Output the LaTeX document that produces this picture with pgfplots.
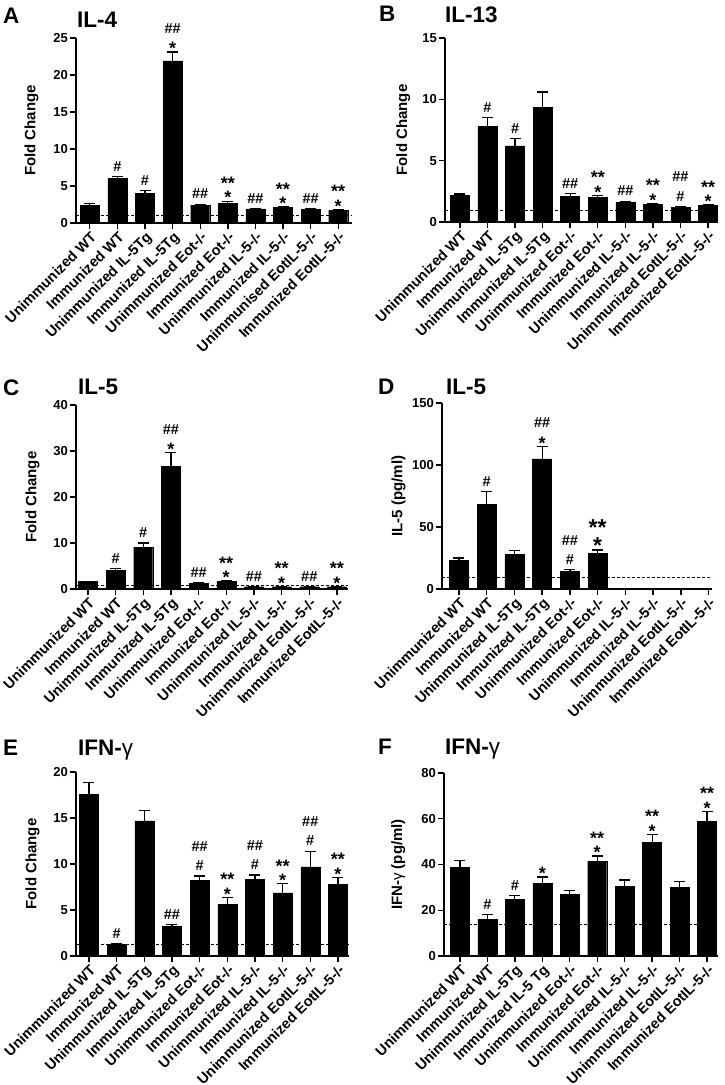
\documentclass[border=0pt]{standalone}
\usepackage{pgfplots}
\pgfplotsset{compat=1.18}
\usepackage{fontspec}
\setmainfont{Liberation Sans}
\newcommand\labf{\bfseries\fontsize{14.5}{16}\selectfont}
\newcommand\tnumf{\bfseries\fontsize{13}{15}\selectfont}
\newcommand\ylabf{\bfseries\fontsize{15}{17}\selectfont}
\newcommand\ttlf{\bfseries\fontsize{22.5}{26}\selectfont}
\newcommand\hashf{\bfseries\fontsize{14.5}{15}\selectfont}
\newcommand\starf{\bfseries\fontsize{18}{18}\selectfont}
\tikzset{ann/.style={anchor=south, inner sep=0pt, align=center, font=\fontsize{13}{15}\selectfont}}
\newcommand{\aH}[2]{\node[ann, yshift=5pt] at (axis cs:#1,#2) {{\hashf\#}};}
\newcommand{\aHH}[2]{\node[ann, yshift=5pt] at (axis cs:#1,#2) {{\hashf\#\#}};}
\newcommand{\aS}[2]{\node[ann, yshift=-3pt] at (axis cs:#1,#2) {{\starf*}};}
\newcommand{\aHHS}[2]{\node[ann, yshift=-3pt] at (axis cs:#1,#2) {{\hashf\#\#}\\[6.5pt]{\starf*}};}
\newcommand{\aSSS}[2]{\node[ann, yshift=-3pt] at (axis cs:#1,#2) {{\starf**}\\[-0.5pt]{\starf*}};}
\newcommand{\aHHH}[2]{\node[ann, yshift=5pt] at (axis cs:#1,#2) {{\hashf\#\#}\\[4.5pt]{\hashf\#}};}
\pgfplotsset{
  panel/.style={
    scale only axis, clip=false,
    axis lines*=left,
    axis line style={line width=1.6pt, black},
    every tick/.style={line width=1.4pt, black},
    tick align=outside, major tick length=6pt,
    xmin=-0.5, xmax=9.5, ymin=0,
    xtick={0,...,9},
    xticklabel style={rotate=45, anchor=north east, font=\labf, inner sep=1pt},
    yticklabel style={font=\tnumf, inner sep=2pt},
    /pgf/number format/assume math mode=true,
    ylabel style={font=\ylabf, anchor=south},
  },
  bars/.style={ybar, bar width=19pt, fill=black, draw=black, mark=none,
    error bars/.cd, y dir=plus, y explicit,
    error bar style={line width=1.2pt, black},
    error mark options={rotate=90, mark size=5.5pt, line width=1.2pt, black}},
  thr/.style={dash pattern=on 3pt off 2pt, line width=0.7pt, black, forget plot},
}
\begin{document}
\begin{tikzpicture}
\path[use as bounding box] (0pt,0pt) rectangle (724pt,-1085pt);
% ---------------- A ----------------
\node[anchor=base west, font=\ttlf, inner sep=0pt] at (3pt,-23pt) {A};
\node[anchor=base west, font=\ttlf, inner sep=0pt] at (77pt,-27pt) {IL-4};
\begin{axis}[panel, at={(76pt,-223pt)}, anchor=south west, width=276pt, height=185pt,
  ymax=25, ytick={0,5,10,15,20,25},
  ylabel={Fold Change}, ylabel style={at={(axis description cs:-0.123,0.5)}},
  xticklabels={Unimmunized WT, Immunized WT, Unimmunized IL-5Tg, Immunized IL-5Tg, Unimmunized Eot-/-, Immunized Eot-/-, Unimmunized IL-5-/-, Immunized IL-5-/-, Unimmunised EotIL-5-/-, Immunized EotIL-5-/-}]
\addplot[bars] table[x=x, y=y, y error=e] {
x y e
0 2.4 0.2
1 6.0 0.3
2 4.0 0.35
3 21.9 1.2
4 2.4 0.15
5 2.7 0.25
6 1.9 0.08
7 2.1 0.08
8 1.85 0.08
9 1.75 0.08
};
\addplot[thr] coordinates {(-0.5,1.1) (9.5,1.1)};
\aH{1}{6.3} \aH{2}{4.35} \aHHS{3}{23.1} \aHH{4}{2.55} \aSSS{5}{2.95}
\aHH{6}{1.98} \aSSS{7}{2.18} \aHH{8}{1.93} \aSSS{9}{1.83}
\end{axis}
% ---------------- B ----------------
\node[anchor=base west, font=\ttlf, inner sep=0pt] at (379pt,-21pt) {B};
\node[anchor=base west, font=\ttlf, inner sep=0pt] at (445pt,-22pt) {IL-13};
\begin{axis}[panel, at={(445pt,-222pt)}, anchor=south west, width=273pt, height=184pt,
  xmin=-0.54, xmax=9.36,
  ymax=15, ytick={0,5,10,15},
  ylabel={Fold Change}, ylabel style={at={(axis description cs:-0.114,0.5)}},
  xticklabels={Unimmunized WT, Immunized WT, Unimmunized IL-5Tg, Immunized IL-5Tg, Unimmunized Eot-/-, Immunized Eot-/-, Unimmunized IL-5-/-, Immunized IL-5-/-, Unimmunized EotIL-5-/-, Immunized EotIL-5-/-}]
\addplot[bars] table[x=x, y=y, y error=e] {
x y e
0 2.2 0.08
1 7.8 0.7
2 6.2 0.6
3 9.35 1.25
4 2.1 0.2
5 2.0 0.15
6 1.6 0.1
7 1.45 0.08
8 1.2 0.05
9 1.35 0.05
};
\addplot[thr] coordinates {(-0.54,0.95) (9.36,0.95)};
\aH{1}{8.5} \aH{2}{6.8} \aHH{4}{2.3} \aSSS{5}{2.15} \aHH{6}{1.7}
\aSSS{7}{1.53} \aHHH{8}{1.25} \aSSS{9}{1.4}
\end{axis}
% ---------------- C ----------------
\node[anchor=base west, font=\ttlf, inner sep=0pt] at (3pt,-395pt) {C};
\node[anchor=base west, font=\ttlf, inner sep=0pt] at (78pt,-394pt) {IL-5};
\begin{axis}[panel, at={(76pt,-589pt)}, anchor=south west, width=272pt, height=184pt,
  xmin=-0.43, xmax=9.4,
  ymax=40, ytick={0,10,20,30,40},
  ylabel={Fold Change}, ylabel style={at={(axis description cs:-0.121,0.5)}},
  xticklabels={Unimmunized WT, Immunized WT, Unimmunized IL-5Tg, Immunized IL-5Tg, Unimmunized Eot-/-, Immunized Eot-/-, Unimmunized IL-5-/-, Immunized IL-5-/-, Unimmunized EotIL-5-/-, Immunized EotIL-5-/-}]
\addplot[bars] table[x=x, y=y, y error=e] {
x y e
0 1.6 0.1
1 4.1 0.4
2 9.1 0.9
3 26.7 2.9
4 1.2 0.1
5 1.7 0.1
6 0.5 0.05
7 0.5 0.05
8 0.5 0.05
9 0.5 0.05
};
\addplot[thr] coordinates {(-0.43,0.8) (9.4,0.8)};
\aH{1}{4.5} \aH{2}{10.0} \aHHS{3}{29.6} \aHH{4}{1.3} \aSSS{5}{1.8}
\aHH{6}{0.55} \aSSS{7}{0.55} \aHH{8}{0.55} \aSSS{9}{0.55}
\end{axis}
% ---------------- D ----------------
\node[anchor=base west, font=\ttlf, inner sep=0pt] at (378pt,-394pt) {D};
\node[anchor=base west, font=\ttlf, inner sep=0pt] at (446pt,-394pt) {IL-5};
\begin{axis}[panel, at={(442pt,-589pt)}, anchor=south west, width=270pt, height=186pt,
  xmin=-0.61, xmax=9.12,
  ymax=150, ytick={0,50,100,150},
  ylabel={IL-5 (pg/ml)}, ylabel style={at={(axis description cs:-0.122,0.5)}},
  xticklabels={Unimmunized WT, Immunized WT, Unimmunized IL-5Tg, Immunized IL-5Tg, Unimmunized Eot-/-, Immunized Eot-/-, Unimmunized IL-5-/-, Immunized IL-5-/-, Unimmunized EotIL-5-/-, Immunized EotIL-5-/-}]
\addplot[bars] table[x=x, y=y, y error=e] {
x y e
0 23 2
1 68 10.5
2 28 3
3 105 10
4 14 1.5
5 28.5 3
};
\addplot[thr] coordinates {(-0.61,9.5) (9.12,9.5)};
\aH{1}{78.5} \aHHS{3}{115} \aHHH{4}{15.5}
\node[anchor=south, inner sep=0pt, align=center, font=\bfseries\fontsize{23}{23}\selectfont, yshift=-4pt] at (axis cs:5,31.5) {**\\[-5pt]*};
\end{axis}
% ---------------- E ----------------
\node[anchor=base west, font=\ttlf, inner sep=0pt] at (3pt,-755pt) {E};
\node[anchor=base west, font=\ttlf, inner sep=0pt] at (78pt,-755pt) {IFN-{\mdseries γ}};
\begin{axis}[panel, at={(76pt,-956pt)}, anchor=south west, width=273pt, height=184pt,
  xmin=-0.47, xmax=9.4,
  ymax=20, ytick={0,5,10,15,20},
  ylabel={Fold Change}, ylabel style={at={(axis description cs:-0.121,0.5)}},
  xticklabels={Unimmunized WT, Immunized WT, Unimmunized IL-5Tg, Immunized IL-5Tg, Unimmunized Eot-/-, Immunized Eot-/-, Unimmunized IL-5-/-, Immunized IL-5-/-, Unimmunized EotIL-5-/-, Immunized EotIL-5-/-}]
\addplot[bars] table[x=x, y=y, y error=e] {
x y e
0 17.6 1.3
1 1.25 0.05
2 14.7 1.1
3 3.2 0.25
4 8.2 0.5
5 5.6 0.75
6 8.3 0.5
7 6.85 1.0
8 9.7 1.7
9 7.8 0.75
};
\addplot[thr] coordinates {(-0.47,1.25) (9.4,1.25)};
\aH{1}{1.3} \aHH{3}{3.45} \aHHH{4}{8.7} \aSSS{5}{6.35} \aHHH{6}{8.8}
\aSSS{7}{7.85} \aHHH{8}{11.4} \aSSS{9}{8.55}
\end{axis}
% ---------------- F ----------------
\node[anchor=base west, font=\ttlf, inner sep=0pt] at (378pt,-754pt) {F};
\node[anchor=base west, font=\ttlf, inner sep=0pt] at (445pt,-754pt) {IFN-{\mdseries γ}};
\begin{axis}[panel, at={(444pt,-956pt)}, anchor=south west, width=274pt, height=183pt,
  xmin=-0.58, xmax=9.4,
  ymax=80, ytick={0,20,40,60,80},
  ylabel={IFN-{\mdseries γ} (pg/ml)}, ylabel style={at={(axis description cs:-0.128,0.5)}},
  xticklabels={Unimmunized WT, Immunized WT, Unimmunized IL-5Tg, Immunized IL-5 Tg, Unimmunized Eot-/-, Immunized Eot-/-, Unimmunized IL-5-/-, Immunized IL-5-/-, Unimmunized EotIL-5-/-, Immunized EotIL-5-/-}]
\addplot[bars] table[x=x, y=y, y error=e] {
x y e
0 38.8 3
1 16 2.2
2 24.7 1.8
3 31.8 2.7
4 27 1.8
5 41.5 2.2
6 30.6 2.6
7 49.6 3.5
8 30 2.6
9 58.8 4.4
};
\addplot[thr] coordinates {(-0.58,14) (9.4,14)};
\aH{1}{18.2} \aH{2}{26.5} \aS{3}{34.5} \aSSS{5}{43.7} \aSSS{7}{53.1} \aSSS{9}{63.2}
\end{axis}
\end{tikzpicture}
\end{document}
